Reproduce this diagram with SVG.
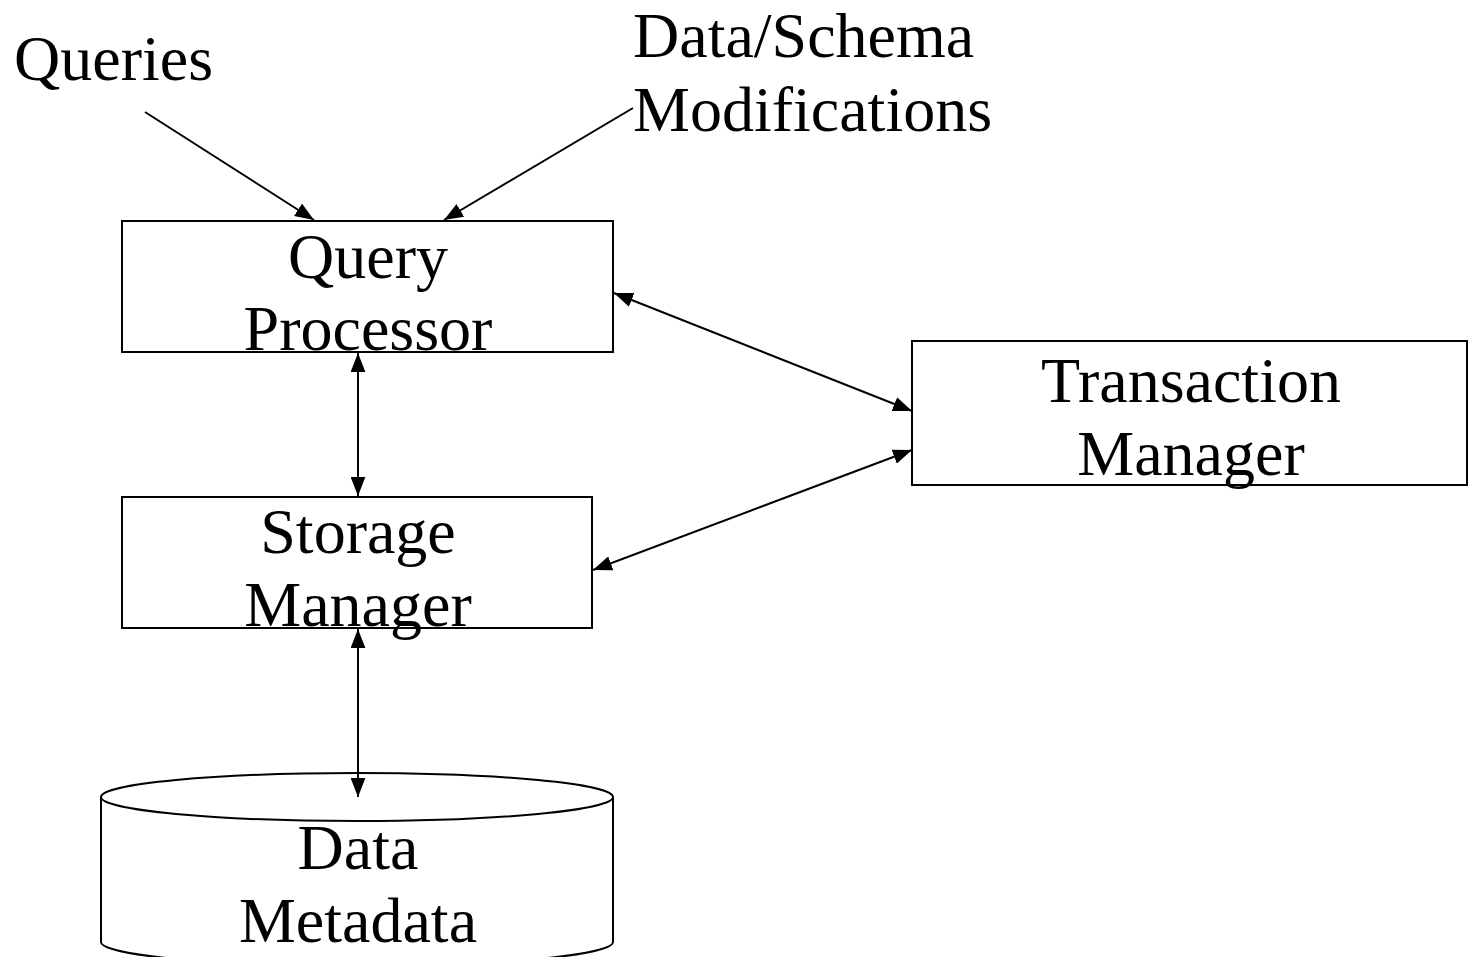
<svg xmlns="http://www.w3.org/2000/svg" width="1472" height="957" viewBox="0 0 1472 957">
<style>
.box{fill:#fff;stroke:#000;stroke-width:2}
.lbl{font-family:"Liberation Serif","Times New Roman",serif;font-size:64px;fill:#000}
.c{text-anchor:middle}
.edge{stroke:#000;stroke-width:2;fill:none;marker-end:url(#ah)}
.both{marker-start:url(#ah)}
</style>
<defs>
<marker id="ah" markerUnits="userSpaceOnUse" markerWidth="19" markerHeight="15" refX="18" refY="7" orient="auto-start-reverse" viewBox="0 0 18 14">
<path d="M0,0 L18,7 L0,14 z" fill="#000"/>
</marker>
</defs>
<rect width="1472" height="957" fill="#fff"/>
<g id="queries"><text class="lbl" x="14" y="80">Queries</text></g>
<g id="modifications"><text class="lbl" x="633" y="57">Data/Schema</text><text class="lbl" x="633" y="131">Modifications</text></g>
<g id="query-processor"><rect class="box" x="122" y="221" width="491" height="131"/><text class="lbl c" x="368" y="278">Query</text><text class="lbl c" x="368" y="350">Processor</text></g>
<g id="transaction-manager"><rect class="box" x="912" y="341" width="555" height="144"/><text class="lbl c" x="1191" y="402">Transaction</text><text class="lbl c" x="1191" y="475">Manager</text></g>
<g id="storage-manager"><rect class="box" x="122" y="497" width="470" height="131"/><text class="lbl c" x="358" y="553">Storage</text><text class="lbl c" x="358" y="626">Manager</text></g>
<g id="data-store"><path class="box" d="M101,797 L101,942 A256,24 0 0 0 613,942 L613,797"/><ellipse class="box" cx="357" cy="797" rx="256" ry="24"/><text class="lbl c" x="358" y="869">Data</text><text class="lbl c" x="358" y="942">Metadata</text></g>
<g id="connectors">
<line class="edge" x1="145" y1="112" x2="314" y2="220"/>
<line class="edge" x1="633" y1="108" x2="444" y2="220"/>
<line class="edge both" x1="358" y1="353" x2="358" y2="496"/>
<line class="edge both" x1="614" y1="293" x2="912" y2="411"/>
<line class="edge both" x1="593" y1="570" x2="912" y2="450"/>
<line class="edge both" x1="358" y1="629" x2="358" y2="797"/>
</g>
</svg>
